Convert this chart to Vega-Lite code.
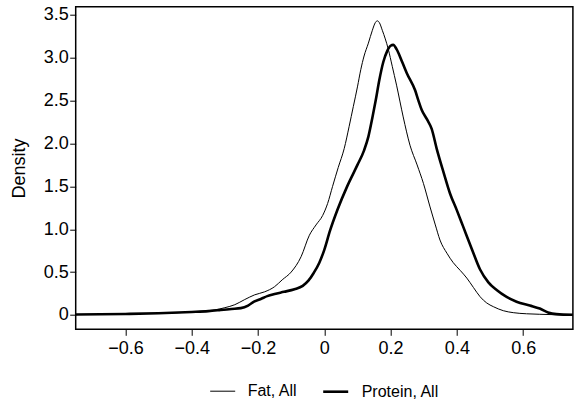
{
  "$schema": "https://vega.github.io/schema/vega-lite/v6.json",
  "autosize": {"type": "none"},
  "padding": {"left": 75.7, "top": 6.7, "right": 4.1, "bottom": 77.7},
  "width": 497.2,
  "height": 322.6,
  "background": "white",
  "config": {
    "font": "Liberation Sans",
    "view": {"stroke": "black", "strokeWidth": 1.5},
    "axis": {"domain": false, "grid": false, "tickColor": "black", "tickWidth": 1, "tickSize": 6, "labelColor": "black", "labelFont": "Liberation Sans", "labelFontSize": 18, "titleFont": "Liberation Sans", "titleColor": "black", "titleFontWeight": "normal", "titleFontSize": 18}
  },
  "data": {"values": [
    {"series": "Fat, All", "x": -0.75, "d": 0.005},
    {"series": "Fat, All", "x": -0.70, "d": 0.007},
    {"series": "Fat, All", "x": -0.60, "d": 0.012},
    {"series": "Fat, All", "x": -0.50, "d": 0.02},
    {"series": "Fat, All", "x": -0.45, "d": 0.025},
    {"series": "Fat, All", "x": -0.40, "d": 0.035},
    {"series": "Fat, All", "x": -0.35, "d": 0.05},
    {"series": "Fat, All", "x": -0.33, "d": 0.06},
    {"series": "Fat, All", "x": -0.30, "d": 0.085},
    {"series": "Fat, All", "x": -0.27, "d": 0.12},
    {"series": "Fat, All", "x": -0.24, "d": 0.18},
    {"series": "Fat, All", "x": -0.21, "d": 0.235},
    {"series": "Fat, All", "x": -0.18, "d": 0.27},
    {"series": "Fat, All", "x": -0.15, "d": 0.33},
    {"series": "Fat, All", "x": -0.127, "d": 0.41},
    {"series": "Fat, All", "x": -0.10, "d": 0.50},
    {"series": "Fat, All", "x": -0.07, "d": 0.68},
    {"series": "Fat, All", "x": -0.045, "d": 0.93},
    {"series": "Fat, All", "x": -0.025, "d": 1.05},
    {"series": "Fat, All", "x": -0.005, "d": 1.16},
    {"series": "Fat, All", "x": 0.01, "d": 1.3},
    {"series": "Fat, All", "x": 0.025, "d": 1.5},
    {"series": "Fat, All", "x": 0.042, "d": 1.72},
    {"series": "Fat, All", "x": 0.06, "d": 1.94},
    {"series": "Fat, All", "x": 0.075, "d": 2.2},
    {"series": "Fat, All", "x": 0.0875, "d": 2.43},
    {"series": "Fat, All", "x": 0.1, "d": 2.66},
    {"series": "Fat, All", "x": 0.11, "d": 2.86},
    {"series": "Fat, All", "x": 0.12, "d": 3.02},
    {"series": "Fat, All", "x": 0.133, "d": 3.17},
    {"series": "Fat, All", "x": 0.145, "d": 3.32},
    {"series": "Fat, All", "x": 0.154, "d": 3.41},
    {"series": "Fat, All", "x": 0.160, "d": 3.43},
    {"series": "Fat, All", "x": 0.166, "d": 3.41},
    {"series": "Fat, All", "x": 0.175, "d": 3.32},
    {"series": "Fat, All", "x": 0.193, "d": 3.1},
    {"series": "Fat, All", "x": 0.205, "d": 2.9},
    {"series": "Fat, All", "x": 0.218, "d": 2.68},
    {"series": "Fat, All", "x": 0.238, "d": 2.31},
    {"series": "Fat, All", "x": 0.2585, "d": 1.98},
    {"series": "Fat, All", "x": 0.28, "d": 1.75},
    {"series": "Fat, All", "x": 0.299, "d": 1.535},
    {"series": "Fat, All", "x": 0.319, "d": 1.26},
    {"series": "Fat, All", "x": 0.335, "d": 1.05},
    {"series": "Fat, All", "x": 0.349, "d": 0.874},
    {"series": "Fat, All", "x": 0.37, "d": 0.72},
    {"series": "Fat, All", "x": 0.389, "d": 0.61},
    {"series": "Fat, All", "x": 0.41, "d": 0.52},
    {"series": "Fat, All", "x": 0.43, "d": 0.43},
    {"series": "Fat, All", "x": 0.45, "d": 0.32},
    {"series": "Fat, All", "x": 0.47, "d": 0.213},
    {"series": "Fat, All", "x": 0.49, "d": 0.14},
    {"series": "Fat, All", "x": 0.51, "d": 0.097},
    {"series": "Fat, All", "x": 0.54, "d": 0.05},
    {"series": "Fat, All", "x": 0.57, "d": 0.027},
    {"series": "Fat, All", "x": 0.61, "d": 0.014},
    {"series": "Fat, All", "x": 0.65, "d": 0.008},
    {"series": "Fat, All", "x": 0.70, "d": 0.003},
    {"series": "Fat, All", "x": 0.75, "d": 0.001},
    {"series": "Protein, All", "x": -0.75, "d": 0.005},
    {"series": "Protein, All", "x": -0.60, "d": 0.012},
    {"series": "Protein, All", "x": -0.50, "d": 0.02},
    {"series": "Protein, All", "x": -0.40, "d": 0.035},
    {"series": "Protein, All", "x": -0.35, "d": 0.045},
    {"series": "Protein, All", "x": -0.3125, "d": 0.058},
    {"series": "Protein, All", "x": -0.28, "d": 0.07},
    {"series": "Protein, All", "x": -0.252, "d": 0.08},
    {"series": "Protein, All", "x": -0.23, "d": 0.11},
    {"series": "Protein, All", "x": -0.212, "d": 0.155},
    {"series": "Protein, All", "x": -0.19, "d": 0.19},
    {"series": "Protein, All", "x": -0.172, "d": 0.22},
    {"series": "Protein, All", "x": -0.15, "d": 0.245},
    {"series": "Protein, All", "x": -0.1216, "d": 0.27},
    {"series": "Protein, All", "x": -0.09, "d": 0.30},
    {"series": "Protein, All", "x": -0.065, "d": 0.34},
    {"series": "Protein, All", "x": -0.048, "d": 0.40},
    {"series": "Protein, All", "x": -0.032, "d": 0.49},
    {"series": "Protein, All", "x": -0.015, "d": 0.61},
    {"series": "Protein, All", "x": 0.00, "d": 0.76},
    {"series": "Protein, All", "x": 0.017, "d": 0.98},
    {"series": "Protein, All", "x": 0.04, "d": 1.23},
    {"series": "Protein, All", "x": 0.069, "d": 1.5},
    {"series": "Protein, All", "x": 0.10, "d": 1.75},
    {"series": "Protein, All", "x": 0.12, "d": 1.92},
    {"series": "Protein, All", "x": 0.133, "d": 2.08},
    {"series": "Protein, All", "x": 0.145, "d": 2.3},
    {"series": "Protein, All", "x": 0.155, "d": 2.5},
    {"series": "Protein, All", "x": 0.166, "d": 2.74},
    {"series": "Protein, All", "x": 0.178, "d": 2.95},
    {"series": "Protein, All", "x": 0.190, "d": 3.08},
    {"series": "Protein, All", "x": 0.200, "d": 3.14},
    {"series": "Protein, All", "x": 0.208, "d": 3.15},
    {"series": "Protein, All", "x": 0.218, "d": 3.1},
    {"series": "Protein, All", "x": 0.235, "d": 2.95},
    {"series": "Protein, All", "x": 0.249, "d": 2.82},
    {"series": "Protein, All", "x": 0.274, "d": 2.62},
    {"series": "Protein, All", "x": 0.284, "d": 2.5},
    {"series": "Protein, All", "x": 0.294, "d": 2.39},
    {"series": "Protein, All", "x": 0.31, "d": 2.28},
    {"series": "Protein, All", "x": 0.324, "d": 2.17},
    {"series": "Protein, All", "x": 0.339, "d": 1.94},
    {"series": "Protein, All", "x": 0.36, "d": 1.66},
    {"series": "Protein, All", "x": 0.379, "d": 1.42},
    {"series": "Protein, All", "x": 0.40, "d": 1.22},
    {"series": "Protein, All", "x": 0.419, "d": 1.03},
    {"series": "Protein, All", "x": 0.445, "d": 0.77},
    {"series": "Protein, All", "x": 0.47, "d": 0.53},
    {"series": "Protein, All", "x": 0.495, "d": 0.38},
    {"series": "Protein, All", "x": 0.52, "d": 0.29},
    {"series": "Protein, All", "x": 0.55, "d": 0.21},
    {"series": "Protein, All", "x": 0.58, "d": 0.155},
    {"series": "Protein, All", "x": 0.62, "d": 0.11},
    {"series": "Protein, All", "x": 0.65, "d": 0.075},
    {"series": "Protein, All", "x": 0.675, "d": 0.03},
    {"series": "Protein, All", "x": 0.70, "d": 0.01},
    {"series": "Protein, All", "x": 0.75, "d": 0.002}
  ]},
  "mark": {"type": "line", "color": "black", "clip": true, "interpolate": "monotone"},
  "encoding": {
    "x": {"field": "x", "type": "quantitative", "scale": {"domain": [-0.75, 0.75], "nice": false, "zero": false},
      "axis": {"title": null, "values": [-0.6, -0.4, -0.2, 0, 0.2, 0.4, 0.6], "labelPadding": 4, "labelExpr": "datum.value == 0 ? '0' : format(datum.value, '.1f')"}},
    "y": {"field": "d", "type": "quantitative", "scale": {"domain": [-0.167, 3.595], "nice": false, "zero": false},
      "axis": {"title": "Density", "values": [0, 0.5, 1, 1.5, 2, 2.5, 3, 3.5], "labelPadding": 1.5, "titlePadding": 15, "labelExpr": "datum.value == 0 ? '0' : format(datum.value, '.1f')"}},
    "strokeWidth": {"field": "series", "type": "nominal",
      "scale": {"domain": ["Fat, All", "Protein, All"], "range": [1, 2.6]},
      "legend": {"title": null, "orient": "none", "direction": "horizontal", "legendX": 134, "legendY": 371,
        "symbolType": "stroke", "symbolSize": 625, "symbolStrokeColor": "black", "labelFontSize": 16, "labelColor": "black", "labelFont": "Liberation Sans", "labelOffset": 12, "columnPadding": 20}},
    "detail": {"field": "series"}
  }
}
